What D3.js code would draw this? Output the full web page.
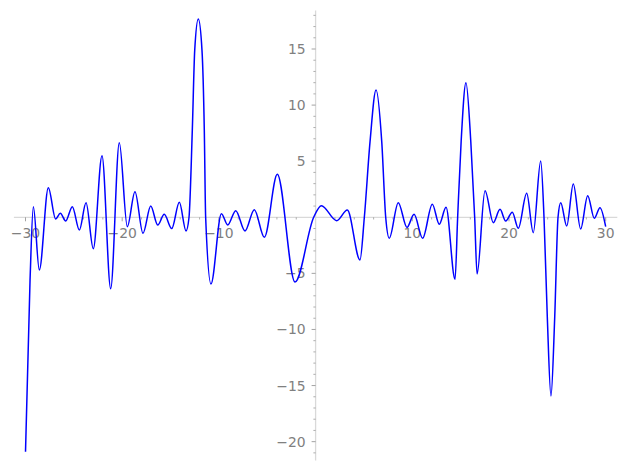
<!DOCTYPE html>
<html><head><meta charset="utf-8">
<script src="https://cdn.jsdelivr.net/npm/d3@7"></script>
<style>body{margin:0;background:#fff}svg{display:block}</style>
</head><body><div id="chart"></div>
<script>
// curve samples (x, y)
const xs = [-30, -29.53, -29.19, -28.57, -27.64, -26.88, -26.4, -25.84, -25.16, -24.43, -23.74, -22.99, -22.09, -21.19, -20.3, -19.47, -18.68, -17.85, -17.05, -16.33, -15.65, -14.88, -14.09, -13.4, -13.09, -12.75, -12.5, -12.13, -11.75, -11.51, -11.37, -10.82, -9.74, -9.09, -8.26, -7.3, -6.34, -5.3, -3.96, -2.13, -0.2, 0.6, 2.18, 3.28, 4.59, 5.04, 5.63, 6.25, 6.84, 7.25, 7.62, 8.55, 9.45, 10.18, 11.07, 12.07, 12.79, 13.49, 14.42, 14.69, 15.05, 15.55, 16.05, 16.45, 16.7, 17.52, 18.38, 19.07, 19.66, 20.34, 20.96, 21.83, 22.51, 23.28, 23.62, 23.96, 24.34, 24.73, 25.07, 25.35, 25.97, 26.65, 27.41, 28.14, 28.82, 29.41, 30];
const ys = [-20.9, -5.6, 0.94, -4.7, 2.64, -0.15, 0.36, -0.33, 0.95, -1.13, 1.3, -2.8, 5.49, -6.36, 6.65, -0.84, 2.28, -1.43, 1.0, -0.69, 0.26, -1.01, 1.33, -1.22, 0, 7.77, 14.9, 17.67, 14.9, 7.77, 0, -5.94, 0.32, -0.69, 0.59, -1.22, 0.68, -1.78, 3.83, -5.77, 0, 1.03, -0.3, 0.65, -3.8, 0, 6.74, 11.35, 6.74, 0, -1.87, 1.3, -0.9, 0.26, -1.87, 1.16, -0.62, 0.89, -5.53, 0, 6.74, 12.0, 6.74, 0, -5.05, 2.37, -0.48, 0.71, -0.33, 0.45, -0.98, 2.14, -1.37, 5.02, 0, -8.86, -15.93, -8.86, 0, 1.3, -0.78, 2.97, -1.04, 1.93, -0.09, 0.86, -0.84];
const xMajor = [-30, -20, -10, 10, 20, 30];
const yMajor = [-20, -15, -10, -5, 5, 10, 15];

const W = 627, H = 470;
const data = xs.map((x, i) => [x, ys[i]]);
const [x0, x1] = d3.extent(xs), [y0, y1] = d3.extent(ys);
const px = (x1 - x0) * 0.02, py = (y1 - y0) * 0.02;
const x = d3.scaleLinear().domain([x0 - px, x1 + px]).range([13.9, 617.3]);
const y = d3.scaleLinear().domain([y0 - py, y1 + py]).range([460.4, 10.4]);

const svg = d3.select("#chart").append("svg").attr("width", W).attr("height", H);
const axisCol = "#d9d9d9", tickCol = "#999", labCol = "#808080";
const font = "DejaVu Sans";

// x axis line
svg.append("line").attr("x1", x.range()[0]).attr("x2", x.range()[1])
  .attr("y1", y(0)).attr("y2", y(0)).attr("stroke", axisCol).attr("stroke-width", 1.3);
// y axis line
svg.append("line").attr("x1", x(0)).attr("x2", x(0))
  .attr("y1", y.range()[0]).attr("y2", y.range()[1]).attr("stroke", axisCol).attr("stroke-width", 1.3);

// x ticks: minor every 2, major every 10
const xMinor = d3.range(-30, 31, 2).filter(v => v % 10 !== 0);
svg.append("g").selectAll("line").data(xMinor).join("line")
  .attr("x1", d => x(d)).attr("x2", d => x(d)).attr("y1", y(0)).attr("y2", y(0) + 2.2)
  .attr("stroke", tickCol).attr("stroke-width", 0.8);
svg.append("g").selectAll("line").data(xMajor).join("line")
  .attr("x1", d => x(d)).attr("x2", d => x(d)).attr("y1", y(0)).attr("y2", y(0) + 4)
  .attr("stroke", tickCol).attr("stroke-width", 0.9);
svg.append("g").selectAll("text").data(xMajor).join("text")
  .attr("x", d => x(d)).attr("y", y(0) + 21).attr("text-anchor", "middle")
  .attr("font-family", font).attr("font-size", 13.9).attr("fill", labCol)
  .text(d => d < 0 ? "\u2212" + Math.abs(d) : d);

// y ticks: minor every 1, major every 5
const yMinor = d3.range(-21, 19, 1).filter(v => v % 5 !== 0);
svg.append("g").selectAll("line").data(yMinor).join("line")
  .attr("x1", x(0) - 2.2).attr("x2", x(0)).attr("y1", d => y(d)).attr("y2", d => y(d))
  .attr("stroke", tickCol).attr("stroke-width", 0.8);
svg.append("g").selectAll("line").data(yMajor).join("line")
  .attr("x1", x(0) - 4).attr("x2", x(0)).attr("y1", d => y(d)).attr("y2", d => y(d))
  .attr("stroke", tickCol).attr("stroke-width", 0.9);
svg.append("g").selectAll("text").data(yMajor).join("text")
  .attr("x", x(0) - 10).attr("y", d => y(d) + 5).attr("text-anchor", "end")
  .attr("font-family", font).attr("font-size", 13.9).attr("fill", labCol)
  .text(d => d < 0 ? "\u2212" + Math.abs(d) : d);

// curve
svg.append("path").datum(data)
  .attr("d", d3.line().x(d => x(d[0])).y(d => y(d[1])).curve(d3.curveMonotoneX))
  .attr("fill", "none").attr("stroke", "#0000ff").attr("stroke-width", 1.5);
</script></body></html>
